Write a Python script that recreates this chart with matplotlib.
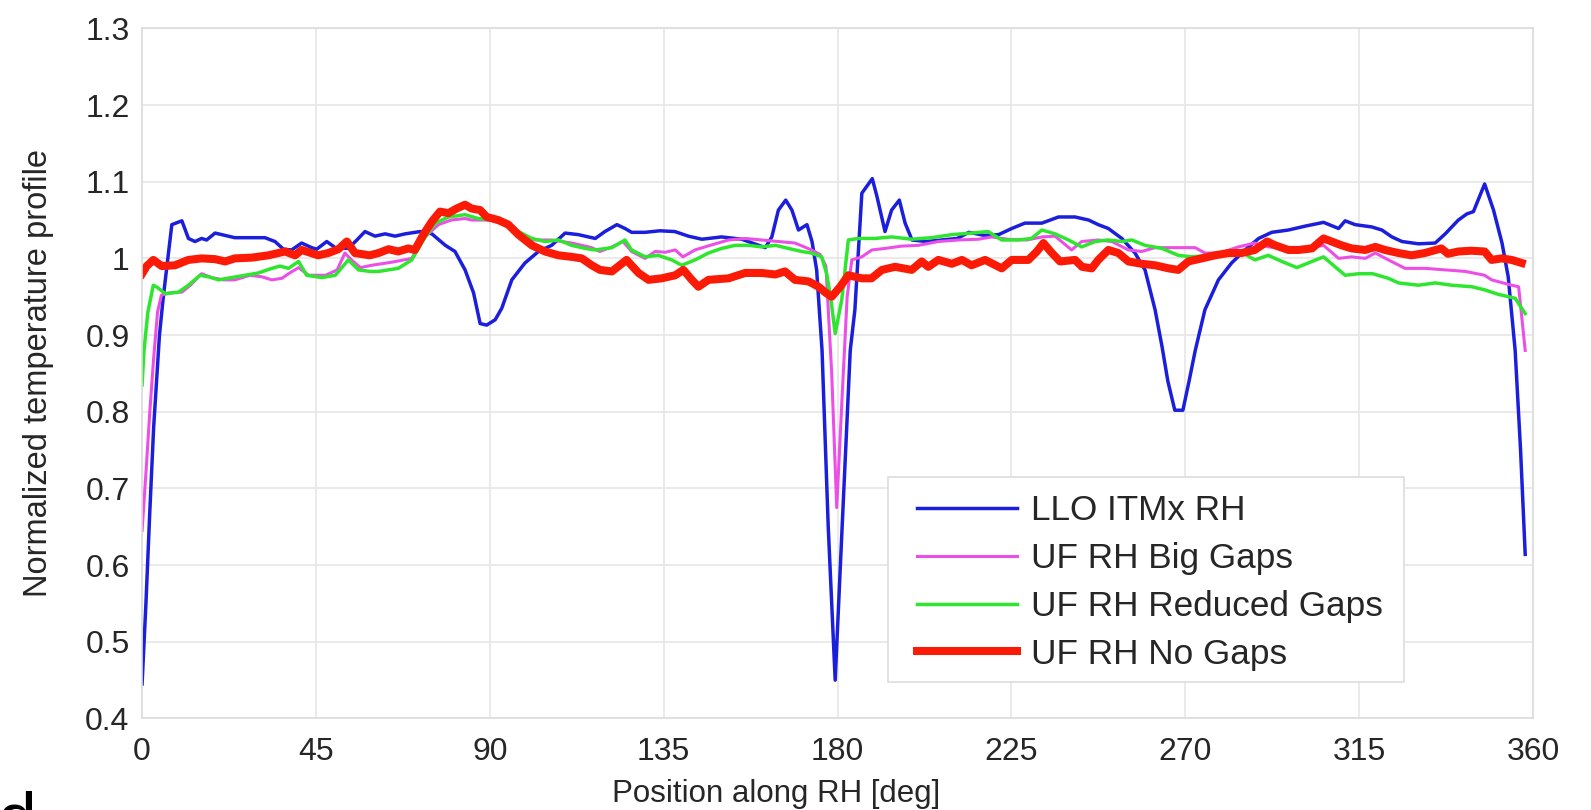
import numpy as np
import matplotlib
matplotlib.use("Agg")
import matplotlib.pyplot as plt
from matplotlib.patches import Rectangle

plt.rcParams['font.family'] = ['Liberation Sans', 'DejaVu Sans']

# Measured temperature profile of the LLO ITMx ring heater (deg, normalized value)
llo_itmx = np.array([
    (0, 0.445), (1, 0.55), (2, 0.67), (3, 0.78), (4.5, 0.9), (5.5, 0.95), (7.7, 1.044),
    (10.3, 1.049), (12, 1.026), (13.7, 1.022), (15.4, 1.026), (16.7, 1.024), (18.9, 1.033),
    (21.5, 1.030), (24, 1.027), (31.8, 1.027), (34.4, 1.022), (36.6, 1.012), (38.7, 1.011),
    (41.3, 1.02), (43.9, 1.014), (45.2, 1.012), (47.8, 1.022), (50, 1.014), (53.4, 1.013),
    (55.6, 1.024), (57.7, 1.035), (60.3, 1.029), (62.9, 1.032), (65.5, 1.029), (68.1, 1.032),
    (72, 1.035), (75, 1.032), (78.5, 1.017), (81, 1.009), (83.6, 0.985), (85.8, 0.955),
    (87.5, 0.915), (89.2, 0.913), (91.4, 0.92), (93.1, 0.935), (95.7, 0.972), (99.1, 0.994),
    (102.6, 1.009), (106, 1.017), (109.5, 1.033), (112.9, 1.031), (117.3, 1.026),
    (119.8, 1.035), (122.9, 1.044), (125, 1.039), (126.7, 1.034), (130.2, 1.034), (134, 1.036),
    (137.9, 1.035), (141.4, 1.029), (144.9, 1.025), (150, 1.028), (155.2, 1.025),
    (161.3, 1.014), (163, 1.028), (164.7, 1.063), (166.6, 1.076), (168.2, 1.063),
    (169.9, 1.037), (172.1, 1.044), (173.4, 1.022), (174.6, 0.985), (176, 0.88),
    (177.6, 0.65), (179.4, 0.45), (181.2, 0.65), (183.3, 0.88), (184.5, 0.933),
    (186.3, 1.085), (189, 1.104), (190.2, 1.081), (192.3, 1.035), (194, 1.063), (196, 1.076),
    (197.5, 1.046), (199.3, 1.024), (203, 1.022), (207, 1.024), (211, 1.026), (214, 1.034),
    (218, 1.030), (221.7, 1.031), (225.1, 1.039), (228.5, 1.046), (232.9, 1.046),
    (237.2, 1.054), (241.5, 1.054), (245, 1.05), (247.5, 1.044), (250.1, 1.039),
    (253.6, 1.026), (257, 1.007), (259.6, 0.985), (262.2, 0.933), (264, 0.885),
    (265.5, 0.84), (267.3, 0.802), (269.4, 0.802), (271, 0.84), (272.6, 0.88), (275.1, 0.933),
    (278.6, 0.972), (282, 0.994), (285.5, 1.011), (289, 1.026), (292.4, 1.034), (296.7, 1.037),
    (301, 1.042), (305.8, 1.047), (309.7, 1.039), (311.4, 1.049), (314, 1.044), (318.3, 1.041),
    (320.9, 1.037), (323.5, 1.028), (326.1, 1.022), (330.4, 1.019), (334.7, 1.02),
    (337.3, 1.032), (340.7, 1.05), (342.9, 1.058), (344.6, 1.061), (347.5, 1.097),
    (349.8, 1.063), (352, 1.02), (353.6, 0.976), (355.4, 0.88), (356.8, 0.75), (358, 0.614),
])

# Simulated profile, ring heater with big gaps
uf_big_gaps = np.array([
    (0, 0.645), (1, 0.72), (2, 0.80), (3, 0.87), (4, 0.93), (5, 0.952), (7, 0.955),
    (10.3, 0.956), (12.5, 0.965), (15.4, 0.98), (18, 0.975), (21, 0.972), (24, 0.972),
    (28, 0.978), (31, 0.976), (33.6, 0.972), (36.2, 0.974), (37.9, 0.98), (40.5, 0.988),
    (43.1, 0.978), (47.5, 0.978), (50.5, 0.985), (52.5, 1.007), (54.2, 0.998), (56.5, 0.988),
    (59.4, 0.991), (64.6, 0.995), (69.8, 1.0), (72.8, 1.026), (76.7, 1.044), (80, 1.05),
    (83.6, 1.052), (85.3, 1.05), (90.5, 1.05), (93.9, 1.044), (97.4, 1.035), (100.9, 1.024),
    (106, 1.024), (111.2, 1.02), (116.4, 1.014), (118.5, 1.009), (121.6, 1.015),
    (124.5, 1.022), (126.7, 1.009), (130.2, 1.0), (132.8, 1.009), (135.4, 1.008),
    (138, 1.011), (140, 1.002), (143.1, 1.011), (147, 1.017), (151.8, 1.024), (156.1, 1.026),
    (160.4, 1.024), (164.7, 1.022), (169, 1.02), (173.3, 1.011), (175.5, 1.005), (177, 0.99),
    (178.5, 0.85), (179.8, 0.675), (181.2, 0.82), (182.5, 0.95), (183.7, 0.998),
    (186.3, 1.002), (188.9, 1.011), (192.3, 1.013), (196.6, 1.016), (200.9, 1.017),
    (206.1, 1.022), (211.3, 1.024), (216.5, 1.025), (219.9, 1.028), (224, 1.025), (229, 1.024),
    (233, 1.028), (236.3, 1.029), (240.6, 1.011), (243.2, 1.022), (247.5, 1.024), (251, 1.022),
    (255.3, 1.011), (258.7, 1.009), (262.2, 1.014), (267, 1.014), (272.6, 1.014),
    (275.1, 1.007), (279, 1.007), (283.8, 1.015), (288, 1.02), (291.5, 1.015), (295.9, 1.013),
    (299.3, 1.011), (305.8, 1.017), (309.7, 1.0), (313.1, 1.002), (316.6, 1.0), (319.2, 1.007),
    (322.6, 0.998), (326.9, 0.987), (332.1, 0.987), (337.3, 0.985), (342.5, 0.983),
    (347.5, 0.978), (349.3, 0.972), (354.5, 0.965), (356.3, 0.963), (358, 0.88),
])

# Simulated profile, ring heater with reduced gaps
uf_reduced_gaps = np.array([
    (0, 0.835), (0.5, 0.88), (1.5, 0.93), (2.9, 0.965), (4, 0.962), (6, 0.954), (9.4, 0.956),
    (12, 0.965), (15, 0.978), (17.2, 0.976), (19.8, 0.972), (23.2, 0.975), (26.7, 0.978),
    (30.1, 0.981), (33.6, 0.987), (35.7, 0.99), (37.9, 0.987), (40.5, 0.996), (42.6, 0.978),
    (46.5, 0.975), (50, 0.978), (53.4, 0.998), (56, 0.985), (59, 0.983), (61.2, 0.983),
    (66.3, 0.987), (69.8, 0.998), (72.8, 1.024), (75.9, 1.046), (79.3, 1.054), (83.6, 1.057),
    (87, 1.052), (90.5, 1.05), (93.9, 1.044), (97.4, 1.035), (100.9, 1.026), (104.3, 1.022),
    (107.8, 1.024), (111.2, 1.017), (114.7, 1.013), (117.3, 1.011), (121.6, 1.014),
    (125, 1.024), (126.7, 1.011), (130.2, 1.002), (133.6, 1.004), (137.1, 0.998),
    (139.7, 0.991), (143.1, 0.998), (146.6, 1.007), (150, 1.013), (153.5, 1.017), (157, 1.017),
    (160.4, 1.015), (164, 1.017), (167.3, 1.013), (170.7, 1.009), (173.3, 1.007),
    (175.9, 1.002), (177.2, 0.98), (178.2, 0.95), (179.4, 0.902), (181.1, 0.946),
    (182.8, 1.024), (185.4, 1.026), (189.7, 1.026), (194, 1.028), (199.2, 1.025),
    (204.4, 1.027), (209.6, 1.031), (214.7, 1.033), (219, 1.035), (222.5, 1.024),
    (226.8, 1.024), (230.2, 1.026), (232.9, 1.037), (236.3, 1.032), (239.8, 1.024),
    (243.2, 1.015), (246.7, 1.022), (250, 1.024), (253.6, 1.022), (256.2, 1.024),
    (259.6, 1.017), (264, 1.013), (268.2, 1.004), (271.7, 1.002), (276, 1.004),
    (281.2, 1.009), (285, 1.007), (288, 0.998), (291.5, 1.004), (295, 0.996), (298.9, 0.988),
    (302.8, 0.996), (305.8, 1.002), (308.8, 0.989), (311.4, 0.978), (314.9, 0.98),
    (318.5, 0.98), (322.6, 0.974), (325.2, 0.968), (330.4, 0.965), (334.7, 0.968),
    (339, 0.965), (344.2, 0.963), (347.5, 0.959), (351.1, 0.953), (355.4, 0.948),
    (358, 0.928),
])

# Simulated profile, ring heater without gaps
uf_no_gaps = np.array([
    (0, 0.98), (1.2, 0.99), (2.9, 0.998), (5.1, 0.99), (8.5, 0.991), (12, 0.998), (15.4, 1.0),
    (18.9, 0.999), (21.5, 0.996), (24, 1.0), (28.4, 1.001), (32.7, 1.004), (37, 1.009),
    (39.6, 1.004), (41.3, 1.011), (45.6, 1.004), (48.2, 1.007), (50.8, 1.012), (53, 1.022),
    (55.1, 1.007), (58.9, 1.004), (61.2, 1.007), (63.8, 1.012), (66.3, 1.009), (68.9, 1.013),
    (70.6, 1.011), (72.8, 1.031), (75, 1.048), (77.1, 1.061), (79.3, 1.059), (81.4, 1.065),
    (83.6, 1.07), (85.3, 1.065), (87.5, 1.063), (89.2, 1.054), (92.2, 1.05), (94.8, 1.044),
    (97.4, 1.031), (100.9, 1.017), (104.3, 1.009), (107.8, 1.004), (111.2, 1.002),
    (113.8, 1.0), (116.4, 0.991), (118.5, 0.985), (121.6, 0.983), (125.4, 0.998),
    (128.5, 0.981), (131.1, 0.972), (134.5, 0.974), (138, 0.978), (140.1, 0.985),
    (142.3, 0.972), (144, 0.963), (146.6, 0.972), (151.8, 0.974), (156.1, 0.981),
    (160.4, 0.981), (163.9, 0.979), (166.4, 0.983), (169, 0.972), (172.5, 0.97),
    (175.1, 0.963), (177, 0.955), (178.5, 0.95), (180.7, 0.963), (182.8, 0.978),
    (186.3, 0.974), (188.8, 0.974), (191.5, 0.985), (194.9, 0.989), (199.2, 0.985),
    (201.8, 0.996), (203.5, 0.989), (206.1, 0.998), (209.6, 0.993), (212.2, 0.998),
    (214.7, 0.991), (218.2, 0.998), (222.5, 0.987), (225.1, 0.998), (229.4, 0.998),
    (231.6, 1.009), (233.3, 1.02), (235.5, 1.007), (237.6, 0.996), (241.5, 0.998),
    (243.3, 0.989), (245.8, 0.987), (247.5, 0.998), (250.1, 1.011), (252.7, 1.007),
    (255.3, 0.996), (258.7, 0.993), (262.2, 0.991), (265.7, 0.987), (268.2, 0.985),
    (270.8, 0.996), (274.3, 1.0), (277.7, 1.004), (281.2, 1.007), (284.6, 1.007), (288, 1.011),
    (291.2, 1.022), (293.3, 1.017), (296.7, 1.011), (299.3, 1.011), (302.8, 1.013),
    (305.8, 1.026), (307.9, 1.022), (310.5, 1.017), (313.1, 1.013), (316.6, 1.011),
    (319.2, 1.015), (321.7, 1.011), (325.2, 1.007), (328.6, 1.004), (332, 1.007),
    (336.3, 1.013), (338, 1.006), (340.7, 1.009), (344, 1.01), (347.5, 1.009), (349.3, 0.998),
    (351.9, 1.0), (354.5, 0.998), (357.1, 0.994),
])

series_labels = ["LLO ITMx RH", "UF RH Big Gaps", "UF RH Reduced Gaps", "UF RH No Gaps"]
x_ticks = [0, 45, 90, 135, 180, 225, 270, 315, 360]
y_ticks = [0.4, 0.5, 0.6, 0.7, 0.8, 0.9, 1.0, 1.1, 1.2, 1.3]
y_tick_labels = ["0.4", "0.5", "0.6", "0.7", "0.8", "0.9", "1", "1.1", "1.2", "1.3"]

styles = [
    dict(color="#1b1fdc", lw=2.5),
    dict(color="#ec4fe6", lw=2.2),
    dict(color="#2fe62f", lw=2.5),
    dict(color="#fb1a06", lw=5.8),
]

fig = plt.figure(figsize=(15.91, 8.10), dpi=100)
ax = fig.add_axes([0.0893, 0.113, 0.8742, 0.852])

for data, label, st in zip([llo_itmx, uf_big_gaps, uf_reduced_gaps, uf_no_gaps],
                           series_labels, styles):
    ax.plot(data[:, 0], data[:, 1], label=label, solid_joinstyle="round", **st)

ax.set_xlim(0, 360)
ax.set_ylim(0.4, 1.3)
ax.set_xticks(x_ticks)
ax.set_yticks(y_ticks)
ax.set_yticklabels(y_tick_labels)
ax.grid(True, color="#e6e6e6", lw=1.2)
ax.set_axisbelow(True)
for sp in ax.spines.values():
    sp.set_color("#dcdcdc")
    sp.set_linewidth(1.2)
ax.tick_params(length=0, labelsize=23, labelcolor="#262626")
ax.tick_params(axis="x", pad=13)
ax.tick_params(axis="y", pad=9)

ax.set_xlabel("Position along RH [deg]", fontsize=22.5, color="#262626", labelpad=5)
ax.xaxis.set_label_coords(0.456, -0.087)
ax.set_ylabel("Normalized temperature profile", fontsize=23.5, color="#262626")
ax.yaxis.set_label_coords(-0.063, 0.5)

# legend frame drawn as a separate box so its padding can be set freely
ax.add_patch(Rectangle((0.5365, 0.0529), 0.3708, 0.2971, transform=ax.transAxes,
                       facecolor="white", edgecolor="#dddddd", lw=1.2, zorder=5))
leg = ax.legend(loc="center left", bbox_to_anchor=(0.557, 0.197), fontsize=25.3,
                frameon=False, handlelength=2.85, handletextpad=0.41,
                labelspacing=0.42, borderpad=0, borderaxespad=0)
leg.set_zorder(6)
for t in leg.get_texts():
    t.set_color("#262626")

# panel letter, partly below the bottom edge
fig.text(-0.002, -0.038, "d", fontsize=50, va="baseline", ha="left", color="black")

fig.savefig("out.png", dpi=100, facecolor="white")
